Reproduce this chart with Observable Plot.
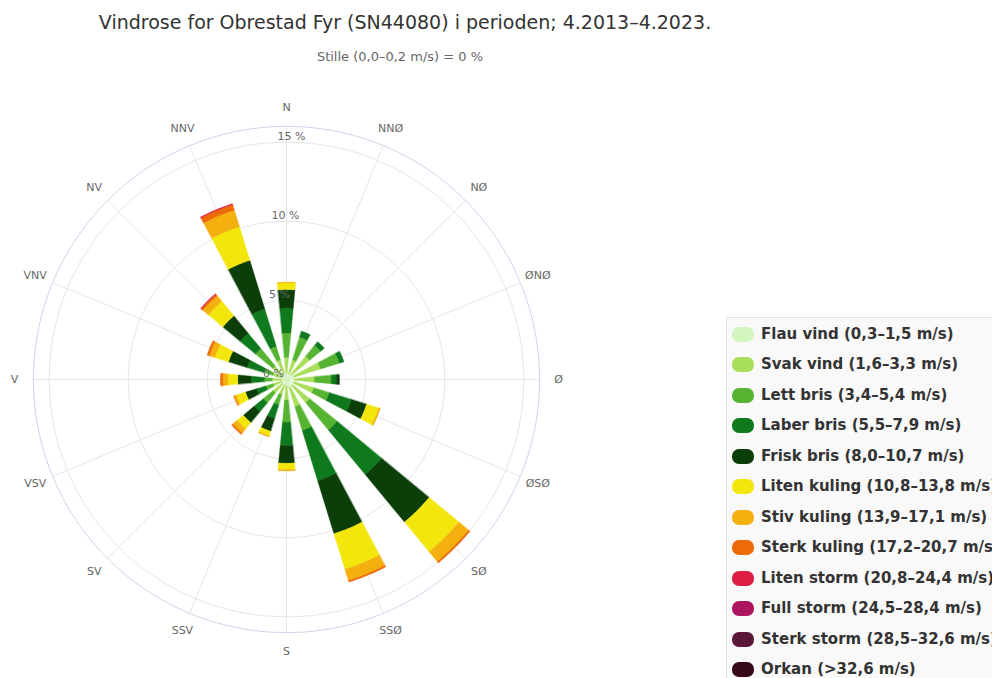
<!DOCTYPE html>
<html>
<head>
<meta charset="utf-8">
<script src="https://cdn.jsdelivr.net/npm/d3@7"></script>
<script src="https://cdn.jsdelivr.net/npm/@observablehq/plot@0.6"></script>
<style>
html, body { margin: 0; padding: 0; background: #fff; overflow: hidden; }
#page { position: relative; width: 992px; height: 678px; overflow: hidden; font-family: "DejaVu Sans", Verdana, sans-serif; }
#title { position: absolute; left: 0; width: 810px; top: 13px; text-align: center; font-size: 19px; line-height: 19px; color: #333; white-space: nowrap; }
#subtitle { position: absolute; left: 0; width: 800px; top: 50px; text-align: center; font-size: 13px; line-height: 13px; color: #666; white-space: nowrap; }
#chart { position: absolute; }
#legend { position: absolute; left: 726px; top: 317px; width: 320px; height: 400px; background: #f9f9f9; border: 1px solid #e2e2e2; box-sizing: border-box; padding-top: 1px; }
.item { height: 30.5px; display: flex; align-items: center; white-space: nowrap; }
.sym { width: 22px; height: 15px; border-radius: 7px; margin-left: 5px; margin-right: 7px; flex: none; }
.lab { font-size: 15px; font-weight: bold; color: #333; line-height: 15px; }
</style>
</head>
<body>
<div id="page">
  <div id="title"></div>
  <div id="subtitle"></div>
  <div id="chart"></div>
  <div id="legend"></div>
</div>
<script>
// ---- data ----
const titleText = "Vindrose for Obrestad Fyr (SN44080) i perioden; 4.2013–4.2023.";
const subtitleText = "Stille (0,0–0,2 m/s) = 0 %";

const directions = ["N", "NNØ", "NØ", "ØNØ", "Ø", "ØSØ", "SØ", "SSØ", "S", "SSV", "SV", "VSV", "V", "VNV", "NV", "NNV"];

const classes = [
  "Flau vind (0,3–1,5 m/s)",
  "Svak vind (1,6–3,3 m/s)",
  "Lett bris (3,4–5,4 m/s)",
  "Laber bris (5,5–7,9 m/s)",
  "Frisk bris (8,0–10,7 m/s)",
  "Liten kuling (10,8–13,8 m/s)",
  "Stiv kuling (13,9–17,1 m/s)",
  "Sterk kuling (17,2–20,7 m/s)",
  "Liten storm (20,8–24,4 m/s)",
  "Full storm (24,5–28,4 m/s)",
  "Sterk storm (28,5–32,6 m/s)",
  "Orkan (>32,6 m/s)"
];

const classColors = ["#d4f4c0", "#a9de5a", "#56b432", "#0e7a1d", "#0b3e08", "#f3e60d", "#f3b00e", "#ec6a08", "#dc1f42", "#ad165e", "#5b1737", "#36081a"];

// percent of time, per speed class, for the 16 directions (N ... NNV)
const flauVind    = [0.40, 0.40, 0.40, 0.50, 0.50, 0.50, 0.50, 0.50, 0.40, 0.35, 0.35, 0.30, 0.30, 0.30, 0.35, 0.35];
const svakVind    = [1.00, 0.90, 1.50, 1.75, 1.27, 1.30, 1.40, 1.30, 0.90, 0.65, 0.75, 0.60, 0.60, 0.60, 0.75, 0.95];
const lettBris    = [1.54, 1.50, 0.90, 1.25, 1.06, 1.03, 2.25, 1.58, 1.40, 0.68, 0.80, 0.48, 0.50, 0.58, 1.44, 0.90];
const laberBris   = [1.59, 0.40, 0.30, 0.30, 0.32, 1.47, 3.65, 3.32, 1.48, 0.90, 0.74, 0.59, 0.83, 1.12, 1.26, 2.47];
const friskBris   = [1.16, 0.00, 0.00, 0.00, 0.20, 1.00, 3.90, 3.50, 1.12, 0.84, 0.90, 0.74, 0.85, 1.23, 1.42, 3.21];
const litenKuling = [0.42, 0.00, 0.00, 0.00, 0.00, 0.80, 2.44, 2.35, 0.40, 0.30, 0.51, 0.60, 0.63, 0.91, 1.19, 2.22];
const stivKuling  = [0.04, 0.00, 0.00, 0.00, 0.00, 0.10, 0.80, 0.75, 0.08, 0.08, 0.35, 0.15, 0.32, 0.36, 0.45, 1.10];
const sterkKuling = [0.00, 0.00, 0.00, 0.00, 0.00, 0.00, 0.11, 0.10, 0.00, 0.00, 0.10, 0.03, 0.15, 0.15, 0.13, 0.36];
const litenStorm  = [0.00, 0.00, 0.00, 0.00, 0.00, 0.00, 0.00, 0.00, 0.00, 0.00, 0.00, 0.00, 0.00, 0.00, 0.05, 0.06];
const fullStorm   = [0, 0, 0, 0, 0, 0, 0, 0, 0, 0, 0, 0, 0, 0, 0, 0];
const sterkStorm  = [0, 0, 0, 0, 0, 0, 0, 0, 0, 0, 0, 0, 0, 0, 0, 0];
const orkan       = [0, 0, 0, 0, 0, 0, 0, 0, 0, 0, 0, 0, 0, 0, 0, 0];

const series = [flauVind, svakVind, lettBris, laberBris, friskBris, litenKuling, stivKuling, sterkKuling, litenStorm, fullStorm, sterkStorm, orkan];

const radialTicks = [0, 5, 10, 15];
const tickLabels = ["0 %", "5 %", "10 %", "15 %"];
const radialMax = 16;

// ---- layout ----
const pxPerUnit = 15.82;
const W = 600, H = 600;
const cx = 286, cy = 379;
const D = W / 2 / pxPerUnit;
const sector = 360 / directions.length;
const barWidthDeg = sector * 0.6 * 0.8;
const rad = d => d * Math.PI / 180;

document.getElementById("title").textContent = titleText;
document.getElementById("subtitle").textContent = subtitleText;

// wedge polygons for stacked polar bars
const wedges = [];
directions.forEach((dir, i) => {
  let base = 0;
  classes.forEach((cls, j) => {
    const v = series[j][i];
    if (!(v > 0)) return;
    const r0 = base, r1 = base + v;
    base = r1;
    const a0 = rad(i * sector - barWidthDeg / 2), a1 = rad(i * sector + barWidthDeg / 2);
    const n = 10;
    const key = dir + "|" + j;
    for (let s = 0; s <= n; s++) {
      const a = a0 + (a1 - a0) * s / n;
      wedges.push({key, cls, x: r1 * Math.sin(a), y: r1 * Math.cos(a)});
    }
    for (let s = n; s >= 0; s--) {
      const a = a0 + (a1 - a0) * s / n;
      wedges.push({key, cls, x: r0 * Math.sin(a), y: r0 * Math.cos(a)});
    }
  });
});

function circle(r, tag) {
  return d3.range(0, 361, 2).map(t => ({r: tag, x: r * Math.sin(rad(t)), y: r * Math.cos(rad(t))}));
}
const rings = radialTicks.filter(t => t > 0).flatMap(t => circle(t, t));
const outer = circle(radialMax, "outer");

const spokes = directions.map((d, i) => ({d, a: rad(i * sector)}));
const labelR = 272 / pxPerUnit;

const ticks = radialTicks.map((t, i) => ({t, label: tickLabels[i]}));

const plot = Plot.plot({
  width: W,
  height: H,
  margin: 0,
  x: {domain: [-D, D], axis: null},
  y: {domain: [-D, D], axis: null},
  color: {domain: classes, range: classColors},
  style: {fontFamily: "'DejaVu Sans', Verdana, sans-serif", background: "transparent", overflow: "visible"},
  marks: [
    Plot.line(rings, {x: "x", y: "y", z: "r", stroke: "#e6e6e6", strokeWidth: 1}),
    Plot.link(spokes, {x1: 0, y1: 0, x2: d => radialMax * Math.sin(d.a), y2: d => radialMax * Math.cos(d.a), stroke: "#e6e6e6", strokeWidth: 1}),
    Plot.line(outer, {x: "x", y: "y", stroke: "#ccd6eb", strokeWidth: 1}),
    Plot.line(wedges, {x: "x", y: "y", z: "key", fill: "cls", stroke: "cls", strokeWidth: 0.4, curve: "linear-closed"}),
    Plot.text(ticks, {x: d => (d.t * 1.2 - 13) / pxPerUnit, y: "t", text: "label", dy: -6, fill: "#666", fontSize: 11, textAnchor: "middle", lineAnchor: "middle"}),
    Plot.text(spokes, {x: d => labelR * Math.sin(d.a), y: d => labelR * Math.cos(d.a), text: "d", fill: "#666", fontSize: 11, textAnchor: "middle", lineAnchor: "middle"})
  ]
});
const chart = document.getElementById("chart");
chart.style.left = (cx - W / 2) + "px";
chart.style.top = (cy - H / 2) + "px";
chart.appendChild(plot);

// legend
const legend = document.getElementById("legend");
classes.forEach((c, i) => {
  const row = document.createElement("div");
  row.className = "item";
  const sym = document.createElement("div");
  sym.className = "sym";
  sym.style.background = classColors[i];
  const lab = document.createElement("div");
  lab.className = "lab";
  lab.textContent = c;
  row.appendChild(sym);
  row.appendChild(lab);
  legend.appendChild(row);
});
</script>
</body>
</html>
